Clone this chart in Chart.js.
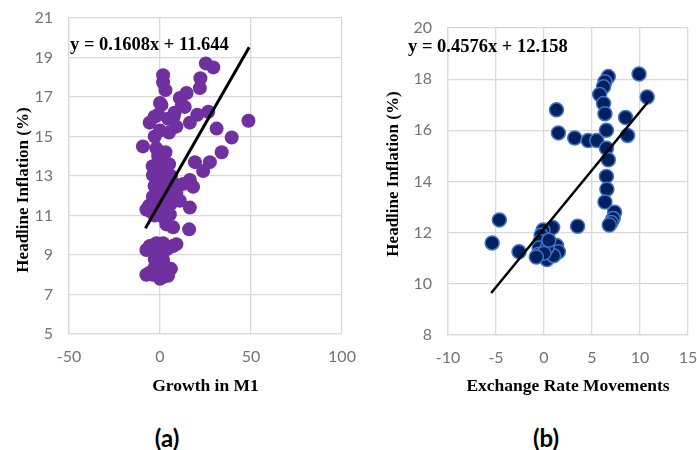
<!DOCTYPE html>
<html><head><meta charset="utf-8">
<script src="https://cdn.jsdelivr.net/npm/chart.js@4"></script>
<style>
html,body{margin:0;padding:0;background:#fff;width:697px;height:450px;overflow:hidden;}
#wrap{position:relative;width:697px;height:450px;}
canvas{position:absolute;}
.cap{position:absolute;font-family:Lato,"Open Sans",sans-serif;font-weight:700;font-size:24px;color:#000;transform:translate(-50%,-50%);top:438px;line-height:1;}
</style></head><body>
<div id="wrap">
<canvas id="ca" width="360" height="400" style="left:0;top:0;width:360px;height:400px"></canvas>
<canvas id="cb" width="342" height="400" style="left:355px;top:0;width:342px;height:400px"></canvas>
<div class="cap" style="left:167px">(a)</div>
<div class="cap" style="left:546px">(b)</div>
</div>
<script>
// ---- Panel (a): Growth in M1 vs Headline Inflation ----
const growthM1 = [25.2,29.3,1.7,1.7,3.0,22.2,21.9,14.6,10.9,0.8,13.6,20.5,26.5,-5.7,4.5,7.5,9.0,16.4,31.1,48.6,39.4,33.9,-2.9,-9.4,-2.0,3.5,0,5.0,-3.9,-1.5,19.2,27.4,23.7,16.4,18.2,9.0,10.9,0,-2.0,-3.9,2,5,-7.5,-5,0,1.7,16.4,5.4,3.5,7.2,16.0,-7.5,-5.7,-2.0,1.7,7.2,9,-2.9,1.7,-5.7,-7.5,0,3.5,4.4,-2.9,1,-4,-1,2,-3,1,4,7,12.7,0,-1,-6,-3,2,6,8,3,-1,6,0,-3,5,12,8,1,-2,4,-4,2,-1,6,2];
const inflationA = [18.7,18.5,18.1,17.75,17.35,17.95,17.45,17.2,16.95,16.6,16.5,16.1,16.25,15.7,15.9,16.0,15.5,15.7,15.4,15.8,14.95,14.2,15.0,14.5,14.4,13.65,13.5,13.6,13.05,12.9,13.7,13.7,13.25,12.8,12.45,12.15,11.75,12.1,12.15,11.95,12.5,12.3,11.3,11.2,11.45,11.5,11.4,11.05,10.55,10.4,10.3,9.25,9.45,9.6,9.6,9.45,9.55,8.8,8.75,8.1,8.0,7.8,8.1,7.95,8.4,8.3,13.5,13.2,13.0,12.5,11.9,11.7,12.0,12.6,16.7,16.1,11.5,11.0,10.9,11.6,12.6,14.2,14.0,13.0,15.3,16.0,15.2,16.6,16.2,9.0,9.2,9.3,8.0,7.9,8.2,8.3,8.5];
const trendA = {slope: 0.1608, intercept: 11.644, xFrom: -8, xTo: 49};
const xTicksA = {min: -50, max: 100, step: 50};
const yTicksA = {min: 5, max: 21, step: 2};

// ---- Panel (b): Exchange Rate Movements vs Headline Inflation ----
const exchangeRate = [6.7,6.35,6.2,5.8,6.2,6.35,9.9,10.75,1.3,8.5,1.5,3.2,4.6,5.5,6.5,8.7,6.5,6.7,6.5,6.55,6.35,7.35,7.2,7.0,6.8,-4.65,-5.4,-2.6,3.5,0.9,-0.1,-0.3,-0.4,-0.5,-0.6,0.3,1.3,1.5,1.0,0.3,0,-0.8,0.5];
const inflationB = [18.1,17.9,17.7,17.4,17.05,16.65,18.2,17.3,16.8,16.5,15.9,15.7,15.6,15.6,16.0,15.8,15.3,14.85,14.2,13.7,13.2,12.8,12.55,12.4,12.3,12.5,11.6,11.25,12.25,12.2,12.1,11.9,11.65,11.4,11.15,10.95,11.5,11.25,11.1,11.4,11.2,11.05,11.7];
const trendB = {slope: 0.4576, intercept: 12.158, xFrom: -5.5, xTo: 10.8};
const xTicksB = {min: -10, max: 15, step: 5};
const yTicksB = {min: 8, max: 20, step: 2};

const yTitle = 'Headline Inflation (%)';
const xTitleA = 'Growth in M1';
const xTitleB = 'Exchange Rate Movements';

const textPlugin = {
  id: 'extraText',
  afterDatasetsDraw(chart, args, opts) {
    const ctx = chart.ctx;
    (opts.items || []).forEach(it => {
      ctx.save();
      ctx.font = it.font;
      ctx.fillStyle = '#000';
      ctx.textAlign = it.align || 'left';
      ctx.textBaseline = 'middle';
      ctx.translate(it.x, it.y);
      if (it.rotate) ctx.rotate(it.rotate);
      ctx.fillText(it.text, 0, 0);
      ctx.restore();
    });
  }
};

function pts(xs, ys) { return xs.map((x, i) => ({x: x, y: ys[i]})); }
function trendPts(t) {
  return [{x: t.xFrom, y: t.slope * t.xFrom + t.intercept}, {x: t.xTo, y: t.slope * t.xTo + t.intercept}];
}
const tickFont = {family: 'Lato', size: 16};
const titleFont = {family: 'Liberation Serif', size: 17.5, weight: 'bold'};
const gridCol = '#d9d9d9';

function makeChart(id, xs, ys, trend, xt, yt, xTitle, pointStyle, geom) {
  new Chart(document.getElementById(id), {
    type: 'scatter',
    data: {datasets: [
      Object.assign({data: pts(xs, ys), order: 1}, pointStyle),
      {type: 'line', data: trendPts(trend), borderColor: '#000', borderWidth: geom.lw, pointRadius: 0, order: 0, borderCapStyle: 'butt'}
    ]},
    plugins: [textPlugin],
    options: {
      responsive: false, animation: false, devicePixelRatio: 1,
      layout: {padding: {top: geom.top, right: geom.right, left: 0, bottom: 0}},
      plugins: {
        legend: {display: false}, tooltip: {enabled: false},
        extraText: {items: [
          {text: 'y = ' + trend.slope + 'x + ' + trend.intercept, x: geom.eqX, y: geom.eqY, font: 'bold 18.5px "Liberation Serif"'},
          {text: yTitle, x: geom.ytX, y: geom.ytY, font: 'bold 17px "Liberation Serif"', align: 'center', rotate: -Math.PI / 2}
        ]}
      },
      scales: {
        x: {
          type: 'linear', min: xt.min, max: xt.max,
          ticks: {stepSize: xt.step, font: tickFont, color: '#737373', padding: 13},
          grid: {color: gridCol, lineWidth: 1.3, drawTicks: false},
          border: {color: gridCol, width: 1.3},
          title: {display: true, text: xTitle, font: titleFont, color: '#000', padding: {top: 0, bottom: 3}},
          afterFit(s) { s.height = geom.xh; s.paddingLeft = 0; s.paddingRight = 0; }
        },
        y: {
          type: 'linear', min: yt.min, max: yt.max,
          ticks: {stepSize: yt.step, font: tickFont, color: '#737373', padding: 16},
          grid: {color: gridCol, lineWidth: 1.3, drawTicks: false},
          border: {color: gridCol, width: 1.3},
          afterFit(s) { s.width = geom.yw; s.paddingTop = 0; s.paddingBottom = 0; }
        }
      }
    }
  });
}

makeChart('ca', growthM1, inflationA, trendA, xTicksA, yTicksA, xTitleA,
  {backgroundColor: '#7030A0', borderColor: '#7030A0', pointRadius: 7, borderWidth: 0},
  {top: 18, right: 18, yw: 69, xh: 66, lw: 3, eqX: 70, eqY: 45, ytX: 24, ytY: 190});
makeChart('cb', exchangeRate, inflationB, trendB, xTicksB, yTicksB, xTitleB,
  {backgroundColor: '#002060', borderColor: '#4472C4', pointRadius: 7, borderWidth: 1.5},
  {top: 28, right: 9, yw: 93, xh: 65, lw: 2.5, eqX: 53, eqY: 47, ytX: 39, ytY: 174});
</script>
</body></html>
